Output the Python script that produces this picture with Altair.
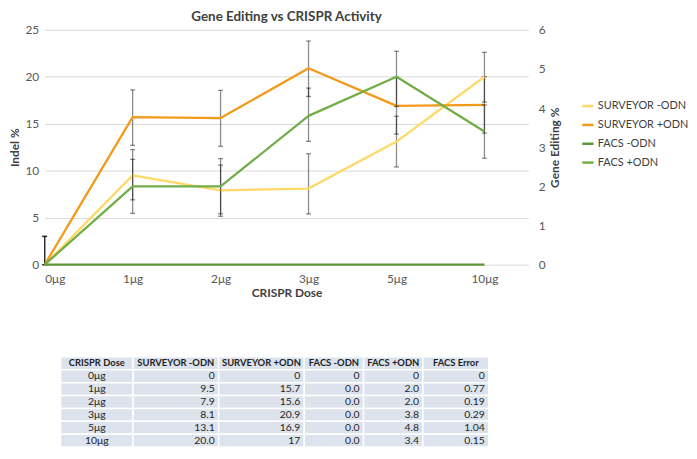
import json
import altair as alt
import pandas as pd

# ---------------- data ----------------
doses = ["0μg", "1μg", "2μg", "3μg", "5μg", "10μg"]
series_names = ["SURVEYOR -ODN", "SURVEYOR +ODN", "FACS -ODN", "FACS +ODN"]
table_headers = ["CRISPR Dose", "SURVEYOR -ODN", "SURVEYOR +ODN", "FACS -ODN", "FACS +ODN", "FACS Error"]

surveyor_minus_txt = ["0", "9.5", "7.9", "8.1", "13.1", "20.0"]
surveyor_plus_txt = ["0", "15.7", "15.6", "20.9", "16.9", "17"]
facs_minus_txt = ["0", "0.0", "0.0", "0.0", "0.0", "0.0"]
facs_plus_txt = ["0", "2.0", "2.0", "3.8", "4.8", "3.4"]
facs_error_txt = ["0", "0.77", "0.19", "0.29", "1.04", "0.15"]

# error bar extents as drawn in the chart
surveyor_minus_lo = [0, 6.9, 5.15, 5.4, 10.4, 17.3]
surveyor_minus_hi = [3.0, 12.25, 10.6, 11.8, 15.8, 22.6]
surveyor_plus_lo = [0, 12.7, 12.6, 17.9, 13.9, 14.0]
surveyor_plus_hi = [3.0, 18.6, 18.55, 23.8, 19.9, 20.0]
facs_plus_lo = [0, 1.31, 1.30, 3.15, 4.04, 2.72]
facs_plus_hi = [0.73, 2.69, 2.71, 4.51, 5.45, 4.08]

left_ticks = [0, 5, 10, 15, 20, 25]
right_ticks = [0, 1, 2, 3, 4, 5, 6]

# ---------------- tables for the library ----------------
surveyor_minus = [float(v) for v in surveyor_minus_txt]
surveyor_plus = [float(v) for v in surveyor_plus_txt]
facs_minus = [float(v) for v in facs_minus_txt]
facs_plus = [float(v) for v in facs_plus_txt]

series_colors = ["#FFD966", "#F39A1B", "#5A9A3A", "#72AE48"]
FONT = "Lato"


def rows(name, vals, lo=None, hi=None):
    out = []
    for k in range(len(doses)):
        r = dict(i=k, dose=doses[k], series=name, value=vals[k])
        if lo is not None:
            r["lo"] = lo[k]
            r["hi"] = hi[k]
        out.append(r)
    return out


left_df = pd.DataFrame(
    rows(series_names[0], surveyor_minus, surveyor_minus_lo, surveyor_minus_hi)
    + rows(series_names[1], surveyor_plus, surveyor_plus_lo, surveyor_plus_hi)
)
right_line_df = pd.DataFrame(
    rows(series_names[2], facs_minus) + rows(series_names[3], facs_plus)
)
right_err_df = pd.DataFrame(rows(series_names[3], facs_plus, facs_plus_lo, facs_plus_hi))

# ---------------- encodings ----------------
x_axis = alt.Axis(
    values=list(range(len(doses))),
    labelExpr=json.dumps(doses, ensure_ascii=False) + "[datum.value]",
    title="CRISPR Dose", grid=False, domain=False, ticks=False,
    labelPadding=9, titlePadding=3, labelFontSize=12, titleFontSize=12,
    titleFontWeight="bold", labelColor="#595959", titleColor="#404040",
    labelFont=FONT, titleFont=FONT,
)
x_enc = alt.X("i:Q", scale=alt.Scale(domain=[0, len(doses) - 0.5], nice=False, zero=False), axis=x_axis)

yl_scale = alt.Scale(domain=[0, 25], nice=False)
yl_axis = alt.Axis(
    values=left_ticks, title="Indel %", grid=True, gridColor="#D9D9D9", gridWidth=1,
    domain=False, ticks=False, labelPadding=6, titlePadding=3,
    labelFontSize=12, titleFontSize=12, titleFontWeight="bold",
    labelColor="#595959", titleColor="#404040", labelFont=FONT, titleFont=FONT,
)
yr_scale = alt.Scale(domain=[0, 6], nice=False)
yr_axis = alt.Axis(
    orient="right", values=right_ticks, title="Gene Editing %", grid=False,
    domain=False, ticks=False, labelPadding=10, titlePadding=4,
    titleAngle=270, titleBaseline="top",
    labelFontSize=12, titleFontSize=12, titleFontWeight="bold",
    labelColor="#595959", titleColor="#404040", labelFont=FONT, titleFont=FONT,
)

color_enc = alt.Color(
    "series:N",
    scale=alt.Scale(domain=series_names, range=series_colors),
    legend=alt.Legend(
        title=None, orient="none", legendX=541, legendY=70,
        symbolType="stroke", symbolStrokeWidth=2.5, symbolSize=130,
        labelFont=FONT, labelFontSize=11, labelColor="#404040", rowPadding=7,
        labelOffset=3,
    ),
)


def err_layers(df, scale, axis):
    base = alt.Chart(df)
    rule = base.mark_rule(color="black", opacity=0.45, strokeWidth=1.3).encode(
        x=x_enc, y=alt.Y("lo:Q", scale=scale, axis=axis), y2="hi:Q")
    cap_lo = base.mark_tick(color="black", opacity=0.45, orient="horizontal", size=5, thickness=1.3).encode(
        x=x_enc, y=alt.Y("lo:Q", scale=scale, axis=axis))
    cap_hi = base.mark_tick(color="black", opacity=0.45, orient="horizontal", size=5, thickness=1.3).encode(
        x=x_enc, y=alt.Y("hi:Q", scale=scale, axis=axis))
    return [rule, cap_lo, cap_hi]


lines_left = alt.Chart(left_df).mark_line(strokeWidth=2.3, strokeJoin="round").encode(
    x=x_enc, y=alt.Y("value:Q", scale=yl_scale, axis=yl_axis), color=color_enc)
lines_right = alt.Chart(right_line_df).mark_line(strokeWidth=2.3, strokeJoin="round").encode(
    x=x_enc, y=alt.Y("value:Q", scale=yr_scale, axis=yr_axis), color=color_enc)

left_group = alt.layer(*err_layers(left_df, yl_scale, yl_axis), lines_left)
right_group = alt.layer(*err_layers(right_err_df, yr_scale, yr_axis), lines_right)

top = alt.layer(left_group, right_group).resolve_scale(y="independent").properties(
    width=488, height=237,
    title=alt.TitleParams("Gene Editing vs CRISPR Activity", font=FONT, fontSize=13.5,
                          fontWeight="bold", color="#404040", anchor="middle", offset=0),
)

# ---------------- data table ----------------
table_cols = [doses, surveyor_minus_txt, surveyor_plus_txt, facs_minus_txt, facs_plus_txt, facs_error_txt]
# column widths follow the header lengths
col_w = [max(len(h), 9) for h in table_headers]
edges = [0]
for w in col_w:
    edges.append(edges[-1] + w)

cells = []
for c, h in enumerate(table_headers):
    cells.append(dict(r=0, x0=edges[c], x1=edges[c + 1], xc=(edges[c] + edges[c + 1]) / 2, text=h, kind="header"))
for k in range(len(doses)):
    for c, col in enumerate(table_cols):
        cells.append(dict(r=k + 1, x0=edges[c], x1=edges[c + 1], xc=(edges[c] + edges[c + 1]) / 2,
                          text=col[k], kind="dose" if c == 0 else "num"))
cells_df = pd.DataFrame(cells)

TABLE_W = 432
TABLE_SHIFT = 16
tx_scale = alt.Scale(domain=[0, edges[-1]], range=[TABLE_SHIFT, TABLE_SHIFT + TABLE_W], nice=False, zero=False)
ty_scale = alt.Scale(paddingInner=0, paddingOuter=0)

tbase = alt.Chart(cells_df)
t_rect = tbase.mark_rect(fill="#DCE3ED", stroke="white", strokeWidth=1.5).encode(
    x=alt.X("x0:Q", scale=tx_scale, axis=None), x2="x1:Q",
    y=alt.Y("r:O", scale=ty_scale, axis=None))
t_head = tbase.transform_filter("datum.kind == 'header'").mark_text(
    font=FONT, fontSize=9.5, fontWeight="bold", color="#1F1F1F", align="center").encode(
    x=alt.X("xc:Q", scale=tx_scale, axis=None),
    y=alt.Y("r:O", scale=ty_scale, axis=None), text="text:N")
t_dose = tbase.transform_filter("datum.kind == 'dose'").mark_text(
    font=FONT, fontSize=10.5, color="#1F1F1F", align="center").encode(
    x=alt.X("xc:Q", scale=tx_scale, axis=None),
    y=alt.Y("r:O", scale=ty_scale, axis=None), text="text:N")
t_num = tbase.transform_filter("datum.kind == 'num'").mark_text(
    font=FONT, fontSize=10.5, color="#1F1F1F", align="right", dx=-4).encode(
    x=alt.X("x1:Q", scale=tx_scale, axis=None),
    y=alt.Y("r:O", scale=ty_scale, axis=None), text="text:N")

table = alt.layer(t_rect, t_head, t_dose, t_num).properties(width=TABLE_SHIFT + TABLE_W, height=91)

chart = alt.vconcat(top, table, spacing=58).properties(
    padding={"left": 1, "top": 0, "right": 0, "bottom": 0}
).configure_view(stroke=None)

chart.save("out.html", embed_options={"renderer": "svg", "actions": False})
